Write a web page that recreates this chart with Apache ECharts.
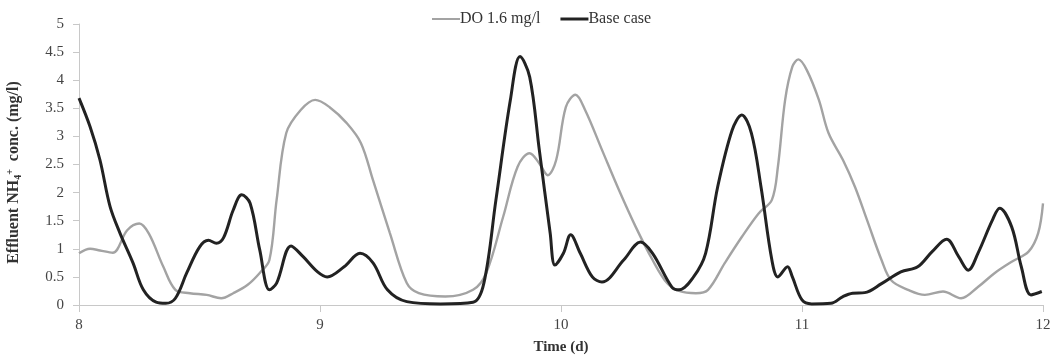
<!DOCTYPE html>
<html><head><meta charset="utf-8">
<script src="https://cdn.jsdelivr.net/npm/echarts@6/dist/echarts.min.js"></script>
<style>html,body{margin:0;padding:0;background:#fff}#c{width:1055px;height:362px}</style>
</head><body><div id="c"></div>
<script>
const xTicks = [8, 9, 10, 11, 12];
const yTicks = [0, 0.5, 1, 1.5, 2, 2.5, 3, 3.5, 4, 4.5, 5];
const seriesNames = ['DO 1.6 mg/l', 'Base case'];

const doX = [8.0,8.046,8.087,8.14,8.2,8.25,8.29,8.35,8.40,8.46,8.53,8.59,8.64,8.70,8.75,8.79,8.82,8.86,8.92,8.98,9.04,9.11,9.17,9.22,9.29,9.36,9.41,9.52,9.635,9.69,9.76,9.82,9.87,9.91,9.945,9.98,10.02,10.06,10.1,10.17,10.24,10.31,10.38,10.44,10.49,10.56,10.61,10.68,10.75,10.82,10.875,10.9,10.93,10.96,10.985,11.02,11.07,11.11,11.17,11.22,11.27,11.33,11.37,11.44,11.51,11.585,11.66,11.73,11.80,11.87,11.94,11.98,12.0];
const doY = [0.92,1.0,0.97,0.93,1.33,1.45,1.27,0.68,0.27,0.21,0.18,0.12,0.21,0.36,0.57,0.80,1.87,3.06,3.47,3.65,3.52,3.24,2.88,2.22,1.28,0.39,0.21,0.15,0.27,0.57,1.57,2.46,2.70,2.52,2.31,2.58,3.52,3.74,3.47,2.76,2.05,1.39,0.80,0.39,0.25,0.21,0.27,0.75,1.21,1.63,1.87,2.46,3.65,4.24,4.37,4.18,3.65,3.06,2.58,2.10,1.51,0.80,0.44,0.27,0.18,0.24,0.12,0.32,0.57,0.77,0.95,1.28,1.81];

const baseX = [8.0,8.046,8.087,8.129,8.17,8.224,8.267,8.32,8.36,8.40,8.447,8.50,8.537,8.57,8.60,8.64,8.675,8.71,8.75,8.79,8.82,8.88,8.93,8.99,9.03,9.10,9.166,9.22,9.28,9.36,9.5,9.635,9.68,9.73,9.79,9.83,9.87,9.91,9.955,9.975,10.01,10.04,10.08,10.13,10.17,10.26,10.33,10.38,10.46,10.49,10.55,10.60,10.65,10.71,10.75,10.79,10.83,10.875,10.9,10.94,10.96,11.0,11.04,11.12,11.17,11.21,11.26,11.33,11.41,11.48,11.54,11.6,11.65,11.69,11.73,11.79,11.82,11.87,11.91,11.95,11.995];
const baseY = [3.68,3.17,2.58,1.75,1.28,0.75,0.27,0.05,0.03,0.12,0.57,1.03,1.15,1.10,1.20,1.69,1.96,1.81,0.98,0.27,0.39,1.05,0.86,0.59,0.50,0.68,0.92,0.75,0.27,0.06,0.02,0.05,0.39,1.87,3.65,4.42,4.06,2.76,1.28,0.71,0.92,1.25,0.92,0.50,0.41,0.80,1.12,0.92,0.32,0.27,0.50,0.92,2.10,3.11,3.38,3.06,2.10,0.80,0.50,0.68,0.50,0.09,0.02,0.03,0.15,0.21,0.22,0.38,0.59,0.68,0.95,1.17,0.86,0.62,0.92,1.51,1.72,1.39,0.68,0.18,0.24];

const zip = (a, b) => a.map((v, i) => [v, b[i]]);
const font = '"Liberation Serif", "Times New Roman", serif';

const chart = echarts.init(document.getElementById('c'));
chart.setOption({
  animation: false,
  backgroundColor: '#fff',
  grid: { left: 79, right: 12, top: 24, bottom: 57, containLabel: false, outerBoundsMode: 'none' },
  legend: {
    top: 6, left: 427,
    itemWidth: 28, itemHeight: 12, itemGap: 20,
    textStyle: { fontFamily: font, fontSize: 16, color: '#333', padding: [0,0,0,-5] },
    data: [
      { name: seriesNames[0], icon: 'path://M0,0L28,0L28,2L0,2Z' },
      { name: seriesNames[1], icon: 'path://M0,0L28,0L28,3L0,3Z' }
    ]
  },
  xAxis: {
    type: 'value', min: xTicks[0], max: xTicks[xTicks.length-1], interval: 1,
    name: 'Time (d)', nameLocation: 'middle', nameGap: 35,
    nameTextStyle: { fontFamily: font, fontSize: 15, fontWeight: 'bold', color: '#333' },
    axisLine: { lineStyle: { color: '#c8c8c8', width: 1 } },
    axisTick: { show: true, length: 7, lineStyle: { color: '#c8c8c8' } },
    axisLabel: { fontFamily: font, fontSize: 15, color: '#444', margin: 13 },
    splitLine: { show: false }
  },
  yAxis: {
    type: 'value', min: yTicks[0], max: yTicks[yTicks.length-1], interval: 0.5,
    name: '{a|Effluent NH}{sub|4}{sup|+}{a|  conc. (mg/l)}', nameLocation: 'middle', nameGap: 56,
    nameRotate: 90,
    nameTextStyle: {
      padding: [0, 16, 0, 0],
      rich: {
        a: { fontFamily: font, fontSize: 16, fontWeight: 'bold', color: '#333', lineHeight: 18 },
        sub: { fontFamily: font, fontSize: 10, fontWeight: 'bold', color: '#333', verticalAlign: 'bottom', lineHeight: 18, padding: [7,0,0,0] },
        sup: { fontFamily: font, fontSize: 10, fontWeight: 'bold', color: '#333', verticalAlign: 'top', lineHeight: 18, padding: [0,0,7,0] }
      }
    },
    axisLine: { show: true, lineStyle: { color: '#c8c8c8', width: 1 } },
    axisTick: { show: true, length: 6, lineStyle: { color: '#c8c8c8' } },
    axisLabel: { fontFamily: font, fontSize: 15, color: '#444', margin: 15 },
    splitLine: { show: false }
  },
  series: [
    { name: seriesNames[0], type: 'line', data: zip(doX, doY), smooth: 0.35, showSymbol: false,
      lineStyle: { color: '#a3a3a3', width: 2.4 }, itemStyle: { color: '#a3a3a3' } },
    { name: seriesNames[1], type: 'line', data: zip(baseX, baseY), smooth: 0.35, showSymbol: false,
      lineStyle: { color: '#222', width: 3 }, itemStyle: { color: '#222' } }
  ]
});
</script></body></html>
